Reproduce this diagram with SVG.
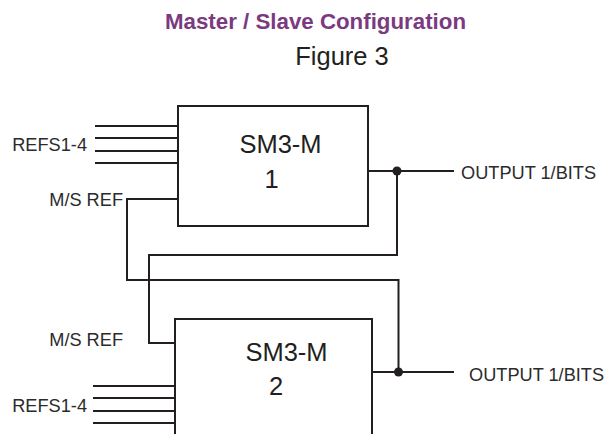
<svg xmlns="http://www.w3.org/2000/svg" width="608" height="434" viewBox="0 0 608 434">
<style>
.ln{fill:none;stroke:#231f20;stroke-width:2;stroke-linecap:butt;stroke-linejoin:miter}
.lbl{font-family:"Liberation Sans",Arial,sans-serif;font-size:18.2px;fill:#2b2b2b}
.big{font-family:"Liberation Sans",Arial,sans-serif;font-size:25.5px;fill:#231f20;text-anchor:middle}
.dot{fill:#231f20}
</style>
<rect width="608" height="434" fill="#ffffff"/>
<g id="title">
<text x="315.5" y="29" text-anchor="middle" style="font-family:'Liberation Sans',Arial,sans-serif;font-size:22.3px;font-weight:bold;fill:#7b3a80">Master / Slave Configuration</text>
<text x="342" y="65" text-anchor="middle" style="font-family:'Liberation Sans',Arial,sans-serif;font-size:25.5px;fill:#231f20">Figure 3</text>
</g>
<g id="connectors">
<path class="ln" d="M95,126H178M95,138H178M95,151H178M95,163H178"/>
<path class="ln" d="M93,386H175M93,398H175M93,411H175M93,423H175"/>
<path class="ln" d="M178,199H127V280H398.5V372"/>
<path class="ln" d="M175,343H149V255H397V171"/>
<path class="ln" d="M368,171H454"/>
<path class="ln" d="M372,372H454"/>
<circle class="dot" cx="397" cy="171" r="4.5"/>
<circle class="dot" cx="398.5" cy="372" r="4.5"/>
</g>
<g id="node-sm3m-1">
<rect class="ln" x="178" y="106" width="190" height="120"/>
<text class="big" x="280.5" y="153">SM3-M</text>
<text class="big" x="271.5" y="188">1</text>
</g>
<g id="node-sm3m-2">
<path class="ln" d="M175,435V319H372V435"/>
<text class="big" x="286.5" y="361">SM3-M</text>
<text class="big" x="276" y="395">2</text>
</g>
<g id="labels">
<text class="lbl" x="87" y="151" text-anchor="end">REFS1-4</text>
<text class="lbl" x="123" y="205.5" text-anchor="end">M/S REF</text>
<text class="lbl" x="123" y="346" text-anchor="end">M/S REF</text>
<text class="lbl" x="87" y="412" text-anchor="end">REFS1-4</text>
<text class="lbl" x="461" y="179">OUTPUT 1/BITS</text>
<text class="lbl" x="469" y="381">OUTPUT 1/BITS</text>
</g>
</svg>
